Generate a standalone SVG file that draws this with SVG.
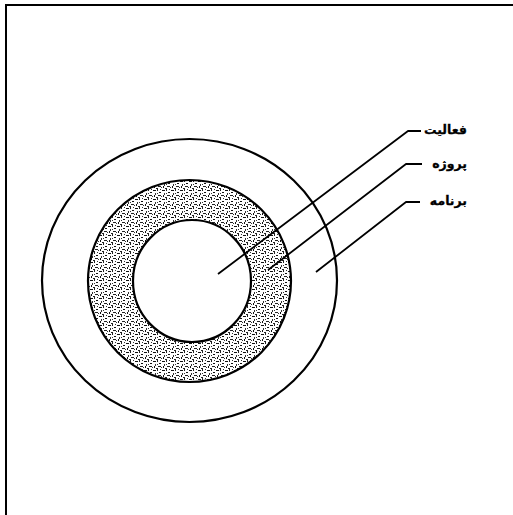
<svg xmlns="http://www.w3.org/2000/svg" width="513" height="515" viewBox="0 0 513 515">
<style>
.ring{fill:none;stroke:#000;stroke-width:2.2}
.lead{fill:none;stroke:#000;stroke-width:1.8;stroke-linejoin:round}
.lbl{font-family:"DejaVu Sans","Noto Sans",sans-serif;font-weight:bold;font-size:12.5px;fill:#000;stroke:#000;stroke-width:0.3}
</style>
<defs>
<pattern id="stip" width="9" height="9" patternUnits="userSpaceOnUse">
<rect width="9" height="9" fill="#fff"/>
<rect x="0" y="1" width="3" height="1" fill="#111"/>
<rect x="4" y="0" width="1" height="2" fill="#222"/>
<rect x="6" y="3" width="2" height="1" fill="#111"/>
<rect x="2" y="4" width="1" height="2" fill="#333"/>
<rect x="1" y="6" width="1" height="2" fill="#111"/>
<rect x="5" y="6" width="3" height="1" fill="#222"/>
<rect x="8" y="7" width="1" height="1" fill="#333"/>
<rect x="3" y="8" width="2" height="1" fill="#222"/>
<rect x="7" y="0" width="1" height="1" fill="#333"/>
<rect x="4" y="4" width="1" height="1" fill="#333"/>
</pattern>
</defs>
<rect width="513" height="515" fill="#fff"/>
<g id="frame">
<path d="M6,515 V5 H513" fill="none" stroke="#000" stroke-width="2"/>
</g>
<g id="program">
<ellipse class="ring" cx="189.5" cy="280.5" rx="147.5" ry="141.5"/>
</g>
<g id="project">
<path d="M88,281 a101.5,101 0 1,0 203,0 a101.5,101 0 1,0 -203,0 Z M133,281 a59,61 0 1,1 118,0 a59,61 0 1,1 -118,0 Z" fill="url(#stip)" fill-rule="evenodd"/>
<ellipse class="ring" cx="189.5" cy="281" rx="101.5" ry="101"/>
</g>
<g id="activity">
<ellipse class="ring" cx="192" cy="281" rx="59" ry="61"/>
</g>
<g id="connectors">
<path class="lead" d="M421,131 H408 L218,274"/>
<path class="lead" d="M422,164 H406 L268,270"/>
<path class="lead" d="M420,202 H406 L316,272"/>
</g>
<g id="labels">
<text class="lbl" x="467" y="134" text-anchor="end">فعالیت</text>
<text class="lbl" x="467" y="168" text-anchor="end">پروژه</text>
<text class="lbl" x="467" y="205" text-anchor="end">برنامه</text>
</g>
</svg>
